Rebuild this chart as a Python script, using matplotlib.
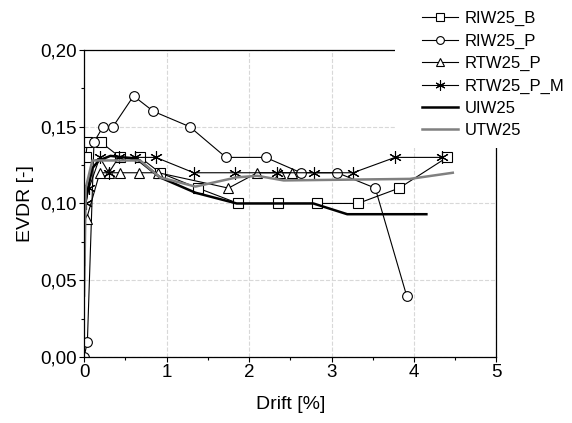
import matplotlib.pyplot as plt
import matplotlib.ticker as mticker
from matplotlib.patches import Rectangle

plt.rcParams['font.family'] = ['Liberation Sans', 'DejaVu Sans']

# RIW25_B (squares)
riw_b_x = [0.02, 0.04, 0.20, 0.44, 0.68, 0.92, 1.38, 1.87, 2.35, 2.82, 3.32, 3.82, 4.40]
riw_b_y = [0.13, 0.14, 0.14, 0.13, 0.13, 0.12, 0.11, 0.10, 0.10, 0.10, 0.10, 0.11, 0.13]

# RIW25_P (circles)
riw_p_x = [0.0, 0.04, 0.12, 0.23, 0.35, 0.60, 0.84, 1.28, 1.72, 2.20, 2.63, 3.07, 3.53, 3.91]
riw_p_y = [0.0, 0.01, 0.14, 0.15, 0.15, 0.17, 0.16, 0.15, 0.13, 0.13, 0.12, 0.12, 0.11, 0.04]

# RTW25_P (triangles)
rtw_p_x = [0.03, 0.19, 0.30, 0.43, 0.66, 0.90, 1.75, 2.10, 2.38, 2.52]
rtw_p_y = [0.09, 0.12, 0.12, 0.12, 0.12, 0.12, 0.11, 0.12, 0.12, 0.12]

# RTW25_P_M (asterisks)
rtw_pm_x = [0.02, 0.06, 0.19, 0.30, 0.42, 0.62, 0.87, 1.33, 1.83, 2.34, 2.79, 3.26, 3.77, 4.34]
rtw_pm_y = [0.10, 0.11, 0.13, 0.12, 0.13, 0.13, 0.13, 0.12, 0.12, 0.12, 0.12, 0.12, 0.13, 0.13]

# UIW25 (thick black)
uiw_x = [0.0, 0.01, 0.04, 0.10, 0.18, 0.32, 0.64, 0.92, 1.35, 1.85, 2.78, 3.19, 4.15]
uiw_y = [0.06, 0.099, 0.108, 0.123, 0.128, 0.131, 0.129, 0.117, 0.107, 0.100, 0.100, 0.093, 0.093]

# UTW25 (thick grey)
utw_x = [0.0, 0.02, 0.10, 0.68, 0.92, 1.35, 1.85, 2.10, 2.42, 3.95, 4.47]
utw_y = [0.04, 0.110, 0.128, 0.128, 0.117, 0.111, 0.117, 0.118, 0.115, 0.116, 0.120]

fig = plt.figure(figsize=(5.72, 4.23), dpi=100)
ax = fig.add_axes([0.147, 0.156, 0.721, 0.726])

mk = dict(color='black', lw=0.8, markersize=7, markerfacecolor='white',
          markeredgecolor='black', markeredgewidth=0.8)
ax.plot(riw_b_x, riw_b_y, marker='s', label='RIW25_B', **mk)
ax.plot(riw_p_x, riw_p_y, marker='o', label='RIW25_P', **mk)
ax.plot(rtw_p_x, rtw_p_y, marker='^', label='RTW25_P', **mk)
ax.plot(rtw_pm_x, rtw_pm_y, marker=(6, 2, 0), label='RTW25_P_M',
        **{**mk, 'markersize': 9})
ax.plot(uiw_x, uiw_y, color='black', lw=1.8, label='UIW25')
ax.plot(utw_x, utw_y, color='#808080', lw=1.8, label='UTW25')

ax.set_xlim(0, 5)
ax.set_ylim(0, 0.20)
ax.xaxis.set_major_locator(mticker.MultipleLocator(1))
ax.xaxis.set_minor_locator(mticker.MultipleLocator(0.5))
ax.yaxis.set_major_locator(mticker.MultipleLocator(0.05))
ax.yaxis.set_minor_locator(mticker.MultipleLocator(0.025))
ax.yaxis.set_major_formatter(mticker.FuncFormatter(lambda v, p: f'{v:.2f}'.replace('.', ',')))
ax.grid(True, which='major', color='#d8d8d8', ls='--', lw=0.8)
ax.set_axisbelow(True)

ax.tick_params(which='both', direction='out', labelsize=13.5, width=0.8)
ax.tick_params(which='major', length=3.5, pad=1.5)
ax.tick_params(which='minor', length=2)
for s in ax.spines.values():
    s.set_linewidth(0.9)

ax.set_xlabel('Drift [%]', fontsize=14, labelpad=11)
ax.set_ylabel('EVDR [-]', fontsize=14, labelpad=5)

# white patch under the legend, covers top-right corner of the frame
fig.add_artist(Rectangle((395 / 572, 1 - 148 / 423), 1, 1, transform=fig.transFigure,
                         facecolor='white', edgecolor='none', zorder=5))
leg = fig.legend(loc='upper left', bbox_to_anchor=(422 / 572, 1 - 11 / 423), frameon=False,
                 fontsize=12, handlelength=2.15, handletextpad=0.42,
                 labelspacing=0.44, borderaxespad=0, borderpad=0, markerscale=0.8)
leg.set_zorder(6)

fig.savefig('out.png', dpi=100)
